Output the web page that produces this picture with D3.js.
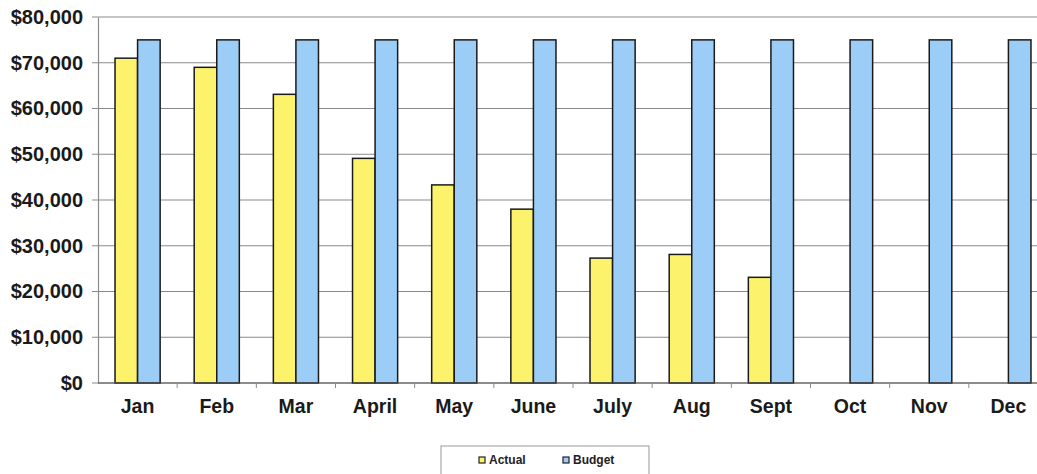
<!DOCTYPE html>
<html>
<head>
<meta charset="utf-8">
<script src="https://cdn.jsdelivr.net/npm/d3@7"></script>
<style>
  body { margin: 0; background: #fff; }
  svg { display: block; font-family: "Liberation Sans", Arial, sans-serif; }
</style>
</head>
<body>
<div class="chart"></div>
<script>
"use strict";

const months = ["Jan", "Feb", "Mar", "April", "May", "June", "July", "Aug", "Sept", "Oct", "Nov", "Dec"];
const actual = [71000, 69000, 63100, 49100, 43300, 38000, 27300, 28100, 23100, null, null, null];
const budget = [75000, 75000, 75000, 75000, 75000, 75000, 75000, 75000, 75000, 75000, 75000, 75000];
const yTicks = [0, 10000, 20000, 30000, 40000, 50000, 60000, 70000, 80000];
const seriesNames = ["Actual", "Budget"];

const colorMap = { Actual: "#fdf26c", Budget: "#9bcdf6" };

const margin = { top: 17, right: -11, bottom: 91, left: 98 };
const width = 1037 - margin.left - margin.right;
const height = 474 - margin.top - margin.bottom;

const svg = d3
  .select(".chart")
  .append("svg")
  .attr("width", 1037)
  .attr("height", 474);

const g = svg
  .append("g")
  .attr("transform", "translate(" + margin.left + "," + margin.top + ")");

const x0 = d3
  .scaleBand()
  .domain(months)
  .range([0, width])
  .paddingInner(0.43)
  .paddingOuter(0.215);

const x1 = d3.scaleBand().domain(seriesNames).range([0, x0.bandwidth()]);

const y = d3.scaleLinear().domain([0, 80000]).range([height, 0]);

// grid lines
g.append("g")
  .selectAll("line")
  .data(yTicks)
  .join("line")
  .attr("x1", -6)
  .attr("x2", width)
  .attr("y1", (d) => y(d))
  .attr("y2", (d) => y(d))
  .attr("stroke", "#8a8a8a")
  .attr("stroke-width", 1.2);

// y axis
const yAxis = d3
  .axisLeft(y)
  .tickValues(yTicks)
  .tickSize(0)
  .tickPadding(15)
  .tickFormat((d) => "$" + d3.format(",")(d));

g.append("g")
  .attr("class", "axis y-axis")
  .call(yAxis)
  .call((s) => s.select(".domain").attr("stroke", "#8a8a8a").attr("stroke-width", 1.2))
  .selectAll("text")
  .attr("font-size", "20px")
  .attr("font-weight", 700)
  .attr("fill", "#1a1a1a");

// bars
const rows = months.map((m, i) => ({ month: m, Actual: actual[i], Budget: budget[i] }));

g.append("g")
  .selectAll("g")
  .data(rows)
  .join("g")
  .attr("transform", (d) => `translate(${x0(d.month)},0)`)
  .selectAll("rect")
  .data((d) => seriesNames.filter((k) => d[k] != null).map((k) => ({ key: k, value: d[k] })))
  .join("rect")
  .attr("x", (d) => x1(d.key))
  .attr("width", x1.bandwidth())
  .attr("y", (d) => y(d.value))
  .attr("height", (d) => height - y(d.value))
  .attr("fill", (d) => colorMap[d.key])
  .attr("stroke", "#1a1a1a")
  .attr("stroke-width", 1.5);

// x axis
g.append("line")
  .attr("x1", 0)
  .attr("x2", width)
  .attr("y1", height)
  .attr("y2", height)
  .attr("stroke", "#555")
  .attr("stroke-width", 1.2);

g.append("g")
  .selectAll("line")
  .data(months.slice(1))
  .join("line")
  .attr("x1", (d) => x0(d) - x0.step() * x0.paddingOuter())
  .attr("x2", (d) => x0(d) - x0.step() * x0.paddingOuter())
  .attr("y1", height)
  .attr("y2", height + 5)
  .attr("stroke", "#8a8a8a");

g.append("g")
  .selectAll("text")
  .data(months)
  .join("text")
  .attr("x", (d) => x0(d) + x0.bandwidth() / 2)
  .attr("y", height + 30)
  .attr("text-anchor", "middle")
  .attr("font-size", "19.5px")
  .attr("font-weight", 700)
  .attr("fill", "#1a1a1a")
  .text((d) => d);

// legend
const legend = svg.append("g").attr("transform", "translate(441,446)");

legend
  .append("rect")
  .attr("width", 208)
  .attr("height", 34)
  .attr("fill", "#fff")
  .attr("stroke", "#999")
  .attr("stroke-width", 1);

const legendX = { Actual: 38, Budget: 122 };

seriesNames.forEach((k) => {
  legend
    .append("rect")
    .attr("x", legendX[k])
    .attr("y", 11)
    .attr("width", 6)
    .attr("height", 6)
    .attr("fill", colorMap[k])
    .attr("stroke", "#222")
    .attr("stroke-width", 1.2);
  legend
    .append("text")
    .attr("x", legendX[k] + 10)
    .attr("y", 18)
    .attr("font-size", "12px")
    .attr("font-weight", 700)
    .attr("fill", "#222")
    .text(k);
});
</script>
</body>
</html>
